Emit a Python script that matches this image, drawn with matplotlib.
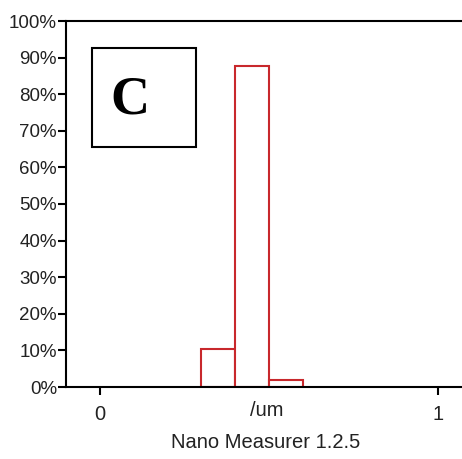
import matplotlib
matplotlib.use('agg')
import matplotlib.pyplot as plt
from matplotlib.patches import Rectangle

# histogram of particle size (um), Nano Measurer output
bin_left = [0.3, 0.4, 0.5]
bin_width = 0.1
percent = [10.3, 87.7, 2.0]

y_ticks = list(range(0, 101, 10))
y_labels = [f'{v}%' for v in y_ticks]
x_ticks = [0, 1]
x_labels = ['0', '1']

W, H = 462, 459
fig = plt.figure(figsize=(W / 100, H / 100), dpi=100)
plt.rcParams['font.family'] = ['Liberation Sans', 'DejaVu Sans']

ax = fig.add_axes([66 / W, (H - 387) / H, (W - 66) / W, (387 - 21) / H])
ax.bar(bin_left, percent, width=bin_width, align='edge',
       facecolor='white', edgecolor='#c8282c', linewidth=1.5)

ax.set_xlim(-0.1, 1.071)
ax.set_ylim(0, 100)
ax.set_yticks(y_ticks)
ax.set_yticklabels(y_labels)
ax.set_xticks(x_ticks)
ax.set_xticklabels(x_labels)
ax.tick_params(axis='y', direction='out', length=6, width=1.5, pad=0.5, labelsize=13.5, labelcolor='#222222')
ax.tick_params(axis='x', direction='out', length=6, width=1.5, pad=7, labelsize=14.5, labelcolor='#222222')

for side in ['left', 'bottom', 'top']:
    ax.spines[side].set_linewidth(1.5)
ax.spines['right'].set_visible(False)

# axis unit and caption
ax.text(0.495, -0.063, '/um', transform=ax.get_xaxis_transform(), ha='center', va='center',
        fontsize=14.5, color='#222222', clip_on=False)
ax.text(0.49, -0.153, 'Nano Measurer 1.2.5', transform=ax.get_xaxis_transform(), ha='center',
        va='center', fontsize=14.5, color='#222222', clip_on=False)

# label box "C"
box = Rectangle((92 / W, 1 - 147 / H), (196 - 92) / W, (147 - 48) / H,
                transform=fig.transFigure, facecolor='white', edgecolor='black',
                linewidth=1.5)
fig.patches.append(box)
fig.text(130 / W, 1 - 100 / H, 'C', ha='center', va='center',
         fontsize=39, fontweight='bold', family=['Liberation Serif', 'DejaVu Serif'])

fig.savefig('out.png', dpi=100)
